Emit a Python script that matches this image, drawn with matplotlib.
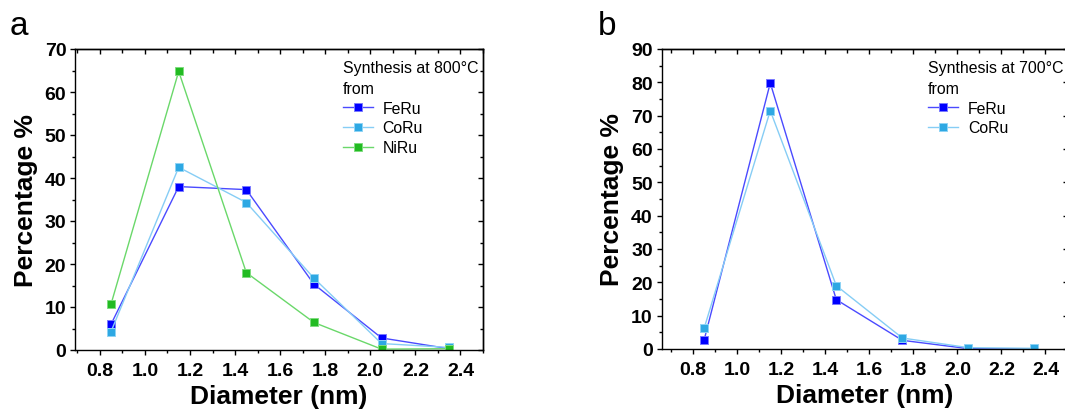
import matplotlib
matplotlib.use("Agg")
import matplotlib.pyplot as plt
from matplotlib.ticker import MultipleLocator

plt.rcParams['font.family'] = ['Liberation Sans', 'DejaVu Sans']

diameter = [0.85, 1.15, 1.45, 1.75, 2.05, 2.35]

# 800 °C synthesis
feru_800 = [6.0, 38.0, 37.3, 15.3, 2.8, 0.3]
coru_800 = [4.3, 42.5, 34.3, 16.7, 1.5, 0.6]
niru_800 = [10.7, 64.8, 18.0, 6.4, 0.2, 0.3]

# 700 °C synthesis
feru_700 = [2.8, 79.8, 14.8, 2.6, 0.1, 0.0]
coru_700 = [6.3, 71.5, 19.0, 3.3, 0.4, 0.2]

x_ticks = [0.8, 1.0, 1.2, 1.4, 1.6, 1.8, 2.0, 2.2, 2.4]

styles = {
    'FeRu': dict(color='#4a4aff', mfc='#0000ff', mec='#7a7aff'),
    'CoRu': dict(color='#86cdf5', mfc='#2ea8e3', mec='#8fd3f5'),
    'NiRu': dict(color='#6ad86a', mfc='#22bb22', mec='#7fdc7f'),
}

fig = plt.figure(figsize=(10.65, 4.10), dpi=100)
ax_a = fig.add_axes([75 / 1065, 59 / 410, 408 / 1065, 301 / 410])
ax_b = fig.add_axes([661.5 / 1065, 60 / 410, 406 / 1065, 300 / 410])


def style_axes(ax, ymax, xmin):
    ax.set_xlim(xmin, 2.5)
    ax.set_ylim(0, ymax)
    ax.set_xticks(x_ticks)
    ax.xaxis.set_minor_locator(MultipleLocator(0.1))
    ax.yaxis.set_major_locator(MultipleLocator(10))
    ax.yaxis.set_minor_locator(MultipleLocator(5))
    for s in ax.spines.values():
        s.set_linewidth(1.0)
    ax.tick_params(which='both', direction='out', width=1.0, labelsize=14)
    ax.tick_params(axis='x', pad=4.5)
    ax.tick_params(axis='y', pad=2.5)
    ax.tick_params(which='major', length=3.8)
    ax.tick_params(which='minor', length=2.2)
    for t in ax.xaxis.get_ticklabels() + ax.yaxis.get_ticklabels():
        t.set_fontweight('bold')

    # inward ticks along the top and right spines
    top = ax.secondary_xaxis('top')
    top.set_xticks(x_ticks)
    top.xaxis.set_minor_locator(MultipleLocator(0.1))
    top.tick_params(which='both', direction='in', width=1.0, labeltop=False)
    top.tick_params(which='major', length=3.8)
    top.tick_params(which='minor', length=3.0)
    top.spines['top'].set_linewidth(1.0)

    right = ax.secondary_yaxis('right')
    right.yaxis.set_major_locator(MultipleLocator(10))
    right.yaxis.set_minor_locator(MultipleLocator(5))
    right.tick_params(which='both', direction='in', width=1.0, labelright=False)
    right.tick_params(which='major', length=3.8)
    right.tick_params(which='minor', length=2.2)
    right.spines['right'].set_linewidth(1.0)

    ax.set_xlabel('Diameter (nm)', fontsize=19, fontweight='bold', labelpad=4)
    ax.set_ylabel('Percentage %', fontsize=19, fontweight='bold', labelpad=5)


def plot_series(ax, name, values):
    st = styles[name]
    ax.plot(diameter, values, '-s', color=st['color'], lw=1.0, ms=5.5,
            mfc=st['mfc'], mec=st['mec'], mew=0.7, label=name)


plot_series(ax_a, 'FeRu', feru_800)
plot_series(ax_a, 'CoRu', coru_800)
plot_series(ax_a, 'NiRu', niru_800)
style_axes(ax_a, 70, 0.69)

plot_series(ax_b, 'FeRu', feru_700)
plot_series(ax_b, 'CoRu', coru_700)
style_axes(ax_b, 90, 0.656)

for ax, title in [(ax_a, 'Synthesis at 800°C\nfrom'), (ax_b, 'Synthesis at 700°C\nfrom')]:
    leg = ax.legend(title=title, loc='upper left', bbox_to_anchor=(0.657, 0.962),
                    frameon=False, fontsize=11.4, title_fontsize=11.4,
                    handlelength=1.9, handletextpad=0.6, labelspacing=0.3,
                    borderpad=0.0, borderaxespad=0.0, alignment='left')
    leg.get_title().set_linespacing(1.45)

fig.text(10 / 1065, 1 - 35 / 410, 'a', fontsize=24)
fig.text(598 / 1065, 1 - 35 / 410, 'b', fontsize=24)

fig.savefig('out.png', dpi=100)
